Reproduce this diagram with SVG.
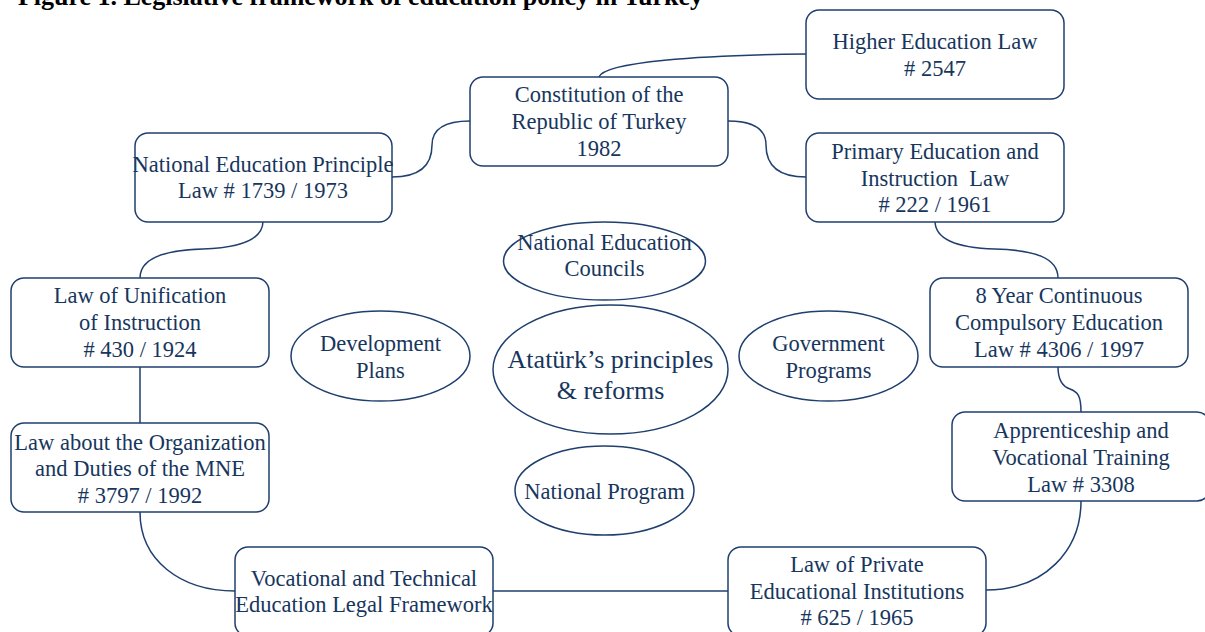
<svg xmlns="http://www.w3.org/2000/svg" width="1205" height="632" viewBox="0 0 1205 632">
  <style>
    .box { fill: #ffffff; stroke: #1f3f6e; stroke-width: 1.5; }
    .oval { fill: #ffffff; stroke: #1f3f6e; stroke-width: 1.5; }
    .link { fill: none; stroke: #1f3f6e; stroke-width: 1.5; }
    .lbl { font-family: "Liberation Serif", "Times New Roman", serif; font-size: 22.5px; fill: #17365d; text-anchor: middle; }
    .big { font-size: 26px; }
    .title { font-family: "Liberation Serif", "Times New Roman", serif; font-size: 26px; font-weight: bold; fill: #000000; }
  </style>

  <rect width="1205" height="632" fill="#ffffff"/>

  <text class="title" x="18" y="4.5" textLength="685" lengthAdjust="spacing">Figure 1. Legislative framework of education policy in Turkey</text>

  <!-- connectors between the laws -->
  <g id="connectors">
    <path class="link" d="M599,77 C604,62 700,55 806,54"/>
    <path class="link" d="M470,121 C442,121 432,131 432,145 C432,165 420,177 392,177"/>
    <path class="link" d="M728,121 C756,121 766,131 766,145 C766,165 778,177 806,177"/>
    <path class="link" d="M263,221 C263,240 240,248 203,249 C165,250 140,258 140,278"/>
    <path class="link" d="M140,367 L140,423"/>
    <path class="link" d="M140,512 C140,560 180,591 235,591"/>
    <path class="link" d="M493,591 L728,591"/>
    <path class="link" d="M986,590 C1045,590 1081,550 1081,501"/>
    <path class="link" d="M1081,412 C1081,396 1078,392 1070,389 C1061,386 1058,378 1058,367"/>
    <path class="link" d="M935,221 C935,240 960,248 995,249 C1035,250 1058,258 1058,278"/>
  </g>

  <g id="higher-education-law">
    <rect class="box" x="806" y="10" width="258" height="89" rx="13"/>
    <text class="lbl" x="935" y="49">Higher Education Law</text>
    <text class="lbl" x="935" y="76"># 2547</text>
  </g>

  <g id="constitution">
    <rect class="box" x="470" y="77" width="258" height="89" rx="13"/>
    <text class="lbl" x="599" y="102">Constitution of the</text>
    <text class="lbl" x="599" y="129">Republic of Turkey</text>
    <text class="lbl" x="599" y="156">1982</text>
  </g>

  <g id="primary-education-law">
    <rect class="box" x="806" y="133" width="258" height="89" rx="13"/>
    <text class="lbl" x="935" y="159">Primary Education and</text>
    <text class="lbl" x="935" y="186" xml:space="preserve" style="white-space:pre">Instruction  Law</text>
    <text class="lbl" x="935" y="212"># 222 / 1961</text>
  </g>

  <g id="national-education-principle-law">
    <rect class="box" x="135" y="133" width="257" height="89" rx="13"/>
    <text class="lbl" x="263" y="172">National Education Principle</text>
    <text class="lbl" x="263" y="198">Law # 1739 / 1973</text>
  </g>

  <g id="unification-of-instruction">
    <rect class="box" x="11" y="278" width="258" height="89" rx="13"/>
    <text class="lbl" x="140" y="303">Law of Unification</text>
    <text class="lbl" x="140" y="330">of Instruction</text>
    <text class="lbl" x="140" y="357"># 430 / 1924</text>
  </g>

  <g id="organization-of-mne">
    <rect class="box" x="11" y="423" width="258" height="89" rx="13"/>
    <text class="lbl" x="140" y="450">Law about the Organization</text>
    <text class="lbl" x="140" y="476">and Duties of the MNE</text>
    <text class="lbl" x="140" y="503"># 3797 / 1992</text>
  </g>

  <g id="vocational-technical">
    <rect class="box" x="235" y="547" width="258" height="89" rx="13"/>
    <text class="lbl" x="364" y="586">Vocational and Technical</text>
    <text class="lbl" x="364" y="612">Education Legal Framework</text>
  </g>

  <g id="private-institutions">
    <rect class="box" x="728" y="547" width="258" height="89" rx="13"/>
    <text class="lbl" x="857" y="572">Law of Private</text>
    <text class="lbl" x="857" y="599">Educational Institutions</text>
    <text class="lbl" x="857" y="625"># 625 / 1965</text>
  </g>

  <g id="compulsory-education">
    <rect class="box" x="930" y="278" width="258" height="89" rx="13"/>
    <text class="lbl" x="1059" y="303">8 Year Continuous</text>
    <text class="lbl" x="1059" y="330">Compulsory Education</text>
    <text class="lbl" x="1059" y="357">Law # 4306 / 1997</text>
  </g>

  <g id="apprenticeship">
    <rect class="box" x="952" y="412" width="258" height="89" rx="13"/>
    <text class="lbl" x="1081" y="438">Apprenticeship and</text>
    <text class="lbl" x="1081" y="465">Vocational Training</text>
    <text class="lbl" x="1081" y="492">Law # 3308</text>
  </g>

  <g id="education-councils">
    <ellipse class="oval" cx="604.5" cy="261" rx="101" ry="39"/>
    <text class="lbl" x="604.5" y="250">National Education</text>
    <text class="lbl" x="604.5" y="276">Councils</text>
  </g>

  <g id="development-plans">
    <ellipse class="oval" cx="380.5" cy="356" rx="89.5" ry="45"/>
    <text class="lbl" x="380.5" y="351">Development</text>
    <text class="lbl" x="380.5" y="378">Plans</text>
  </g>

  <g id="ataturk-principles">
    <ellipse class="oval" cx="610.5" cy="369.5" rx="117.5" ry="64.5"/>
    <text class="lbl big" x="610.5" y="368">Atatürk’s principles</text>
    <text class="lbl big" x="610.5" y="399">&amp; reforms</text>
  </g>

  <g id="government-programs">
    <ellipse class="oval" cx="828.5" cy="356" rx="89.5" ry="45"/>
    <text class="lbl" x="828.5" y="351">Government</text>
    <text class="lbl" x="828.5" y="378">Programs</text>
  </g>

  <g id="national-program">
    <ellipse class="oval" cx="604.5" cy="490.5" rx="89.5" ry="44.5"/>
    <text class="lbl" x="604.5" y="499">National Program</text>
  </g>
</svg>
